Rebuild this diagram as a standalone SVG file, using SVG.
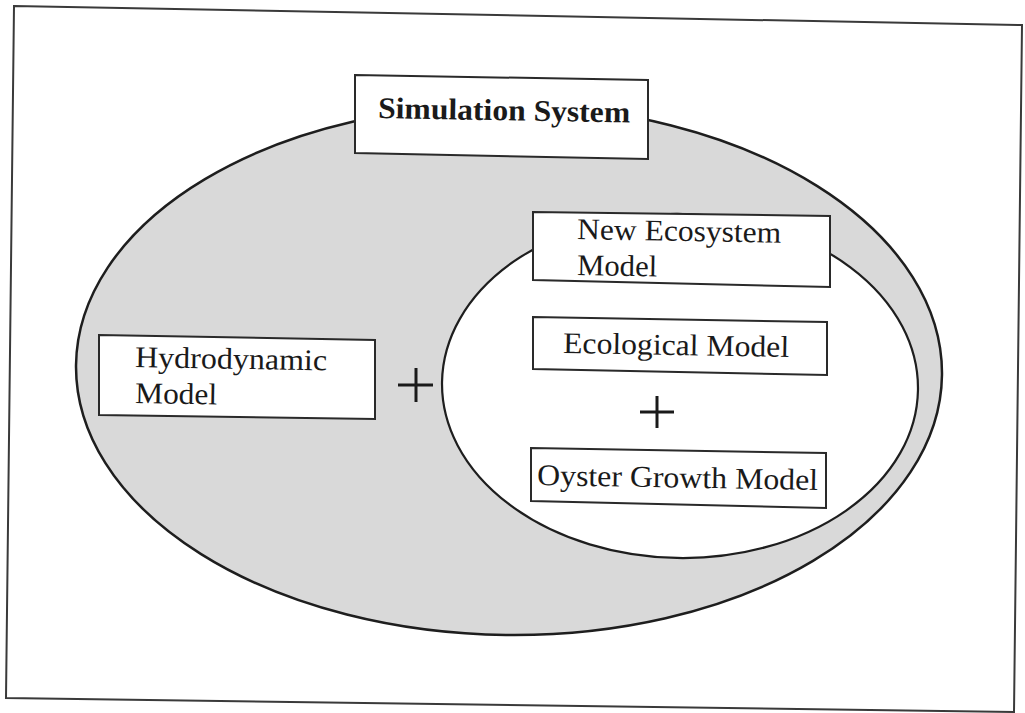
<svg xmlns="http://www.w3.org/2000/svg" width="1025" height="713" viewBox="0 0 1025 713">
  <style>
    .frame { fill: none; stroke: #3a3a3a; stroke-width: 2; }
    .outer { fill: #d9d9d9; stroke: #1e1e1e; stroke-width: 2.5; }
    .inner { fill: #ffffff; stroke: #1e1e1e; stroke-width: 2.2; }
    .box { fill: #ffffff; stroke: #2a2a2a; stroke-width: 2; }
    .label { font-family: "Liberation Serif", "Times New Roman", serif; font-size: 30px; fill: #1a1a1a; }
    .title { font-weight: bold; }
    .plus { stroke: #1a1a1a; stroke-width: 3; stroke-linecap: butt; }
  </style>

  <rect x="0" y="0" width="1025" height="713" fill="#ffffff"/>

  <!-- page border -->
  <polygon class="frame" points="14,6 1022,25 1014,712 6,698"/>

  <!-- simulation system region and ecosystem sub-region -->
  <g id="regions">
    <ellipse class="outer" cx="509" cy="370" rx="433" ry="265" transform="rotate(0.66 509 370)"/>
    <ellipse class="inner" cx="680" cy="386" rx="238" ry="172" transform="rotate(1 680 386)"/>
  </g>

  <g id="simulation-system">
    <polygon class="box" points="355,75 648,80 648,159 355,153"/>
    <text class="label title" x="378" y="118" textLength="252" lengthAdjust="spacingAndGlyphs" transform="rotate(1 378 118)">Simulation System</text>
  </g>

  <g id="new-ecosystem-model">
    <polygon class="box" points="533,212 830,216 830,287 533,280"/>
    <text class="label" x="577" y="239" textLength="204" lengthAdjust="spacingAndGlyphs" transform="rotate(1 577 239)">New Ecosystem</text>
    <text class="label" x="577" y="275" textLength="80" lengthAdjust="spacingAndGlyphs" transform="rotate(1 577 275)">Model</text>
  </g>

  <g id="hydrodynamic-model">
    <polygon class="box" points="99,335 375,340 375,419 99,415"/>
    <text class="label" x="135" y="367" textLength="192" lengthAdjust="spacingAndGlyphs" transform="rotate(1 135 367)">Hydrodynamic</text>
    <text class="label" x="135" y="403" textLength="82" lengthAdjust="spacingAndGlyphs" transform="rotate(1 135 403)">Model</text>
  </g>

  <g id="ecological-model">
    <polygon class="box" points="533,317 827,322 827,375 533,369"/>
    <text class="label" x="563" y="353" textLength="226" lengthAdjust="spacingAndGlyphs" transform="rotate(1 563 353)">Ecological Model</text>
  </g>

  <g id="oyster-growth-model">
    <polygon class="box" points="531,448 826,453 826,508 531,501"/>
    <text class="label" x="537" y="485" textLength="281" lengthAdjust="spacingAndGlyphs" transform="rotate(1 537 485)">Oyster Growth Model</text>
  </g>

  <!-- combination operators -->
  <g id="connectors">
    <g id="plus-hydro-ecosystem">
      <line class="plus" x1="398" y1="385" x2="433" y2="385"/>
      <line class="plus" x1="416" y1="368" x2="416" y2="402"/>
    </g>
    <g id="plus-ecological-oyster">
      <line class="plus" x1="640" y1="412" x2="674" y2="412"/>
      <line class="plus" x1="657" y1="396" x2="657" y2="428"/>
    </g>
  </g>
</svg>
